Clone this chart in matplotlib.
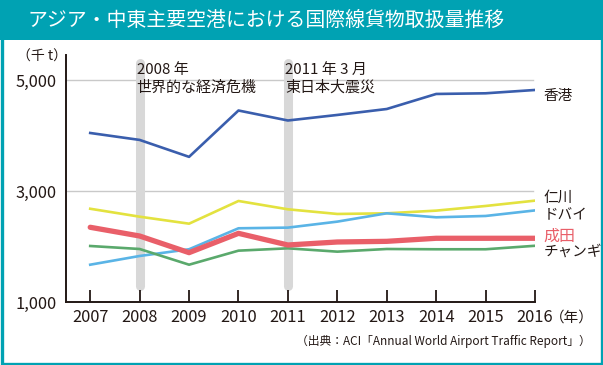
import matplotlib
matplotlib.use("Agg")
import matplotlib.pyplot as plt
from matplotlib.patches import Rectangle

plt.rcParams['font.family'] = ['Noto Sans CJK JP', 'DejaVu Sans']

years = [2007, 2008, 2009, 2010, 2011, 2012, 2013, 2014, 2015, 2016]
hong_kong = [4045, 3920, 3615, 4450, 4270, 4370, 4477, 4748, 4760, 4820]
incheon = [2680, 2537, 2411, 2820, 2670, 2586, 2598, 2646, 2730, 2826]
dubai = [1672, 1829, 1950, 2328, 2340, 2448, 2598, 2526, 2550, 2650]
narita = [2346, 2189, 1889, 2237, 2027, 2081, 2093, 2148, 2148, 2148]
changi = [2009, 1955, 1672, 1925, 1967, 1907, 1955, 1950, 1950, 2013]

series_names = ['香港', '仁川', 'ドバイ', '成田', 'チャンギ']
yticks = [1000, 3000, 5000]
ytick_labels = ['1,000', '3,000', '5,000']
event_years = [2008, 2011]
event_labels = ['2008 年\n世界的な経済危機', '2011 年 3 月\n東日本大震災']

TEAL = '#00a2b3'
DARK = '#231815'
W, H = 603, 365
fig = plt.figure(figsize=(W / 100, H / 100), dpi=100)

# title band and frame
fig.patches.append(Rectangle((0, 1 - 40 / H), 1, 40 / H, transform=fig.transFigure,
                             facecolor=TEAL, edgecolor='none', zorder=0))
fig.patches.append(Rectangle((1.5 / W, 1.5 / H), 1 - 3 / W, 1 - 3 / H, transform=fig.transFigure,
                             facecolor='none', edgecolor=TEAL, linewidth=2.4, zorder=0))
fig.text(27 / W, 1 - 20 / H, 'アジア・中東主要空港における国際線貨物取扱量推移',
         color='white', fontsize=14.3, va='center', ha='left')

ax = fig.add_axes([66 / W, 1 - 302 / H, (535 - 66) / W, (302 - 55) / H])
ax.set_xlim(2006.51, 2016)
ax.set_ylim(1000, 5450)

# event bars
for ey in event_years:
    ax.plot([ey, ey], [1290, 5310], color='#d8d8d8', linewidth=6.5,
            solid_capstyle='round', zorder=1)

for yv in [3000, 5000]:
    ax.plot([2006.51, 2015.96], [yv, yv], color='#c9c9c9', linewidth=1.0, zorder=0.5)

ax.plot(years, hong_kong, color='#3a5ead', linewidth=1.9, zorder=3)
ax.plot(years, incheon, color='#e3e23f', linewidth=1.9, zorder=3)
ax.plot(years, dubai, color='#5ab4e6', linewidth=1.9, zorder=3)
ax.plot(years, changi, color='#5aa96c', linewidth=1.9, zorder=3)
ax.plot(years, narita, color='#e95f69', linewidth=3.8, zorder=4,
        solid_capstyle='round', solid_joinstyle='round')

for s in ['top', 'right']:
    ax.spines[s].set_visible(False)
for s in ['left', 'bottom']:
    ax.spines[s].set_color(DARK)
    ax.spines[s].set_linewidth(1.4)

ax.set_xticks(years)
ax.set_xticklabels([str(y) for y in years], fontsize=11.8, color=DARK)
ax.tick_params(axis='x', direction='in', length=9, width=1.3, color=DARK, pad=5)
ax.set_yticks(yticks)
ax.set_yticklabels(ytick_labels, fontsize=11.8, color=DARK)
ax.tick_params(axis='y', length=0, pad=7)

# event labels
for ey, lab in zip(event_years, event_labels):
    ax.text(ey - 0.06, 5300, lab, fontsize=10.8, color=DARK, va='top', ha='left',
            linespacing=1.3, zorder=5)

# series labels at right
lab_col = [DARK, DARK, DARK, '#e95f69', DARK]
for name, yy, c in zip(series_names, [4720, 2870, 2560, 2180, 1900], lab_col):
    ax.text(2016.17, yy, name, fontsize=10.5 if name != '成田' else 11.5,
            color=c, va='center', ha='left')

fig.text(17 / W, 1 - 57 / H, '（千 t）', fontsize=10, color=DARK, va='center', ha='left')
fig.text(550 / W, 1 - 318 / H, '（年）', fontsize=10.5, color=DARK, va='center', ha='left')
fig.text(591 / W, 1 - 341 / H, '（出典：ACI「Annual World Airport Traffic Report」）',
         fontsize=8.5, color=DARK, va='center', ha='right')

fig.savefig('out.png', dpi=100)
